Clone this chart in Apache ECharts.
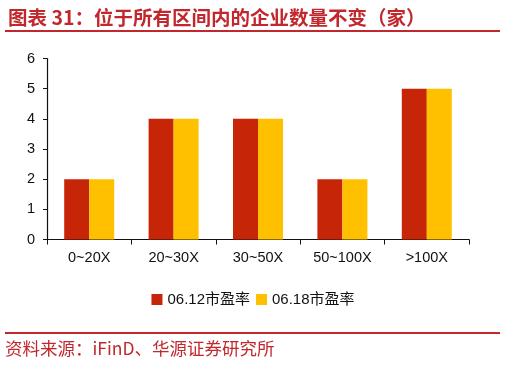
<!DOCTYPE html>
<html>
<head>
<meta charset="utf-8">
<script src="https://cdn.jsdelivr.net/npm/echarts@6/dist/echarts.min.js"></script>
<style>
  html, body { margin: 0; padding: 0; background: #fff; }
  #chart { width: 506px; height: 366px; }
</style>
</head>
<body>
<div id="chart"></div>
<script>
// --- data ---
var categories = ['0~20X', '20~30X', '30~50X', '50~100X', '>100X'];
var pe0612 = [2, 4, 4, 2, 5];
var pe0618 = [2, 4, 4, 2, 5];
var seriesNames = ['06.12市盈率', '06.18市盈率'];

var titleText = '图表 31：位于所有区间内的企业数量不变（家）';
var sourceText = '资料来源：iFinD、华源证券研究所';
var accent = '#C1272D';

var chart = echarts.init(document.getElementById('chart'));

chart.setOption({
    animation: false,
    textStyle: { fontFamily: 'Liberation Sans, Arial, sans-serif' },
    title: {
        text: titleText,
        left: 3, top: 3,
        textStyle: { fontFamily: 'Noto Sans CJK SC', fontSize: 19.5, fontWeight: 'bold', color: accent }
    },
    graphic: [
        { type: 'rect', shape: { x: 5, y: 30, width: 495, height: 2 }, style: { fill: accent } },
        { type: 'rect', shape: { x: 5, y: 332, width: 495, height: 2 }, style: { fill: accent } },
        {
            type: 'text', left: 5, top: 340,
            style: { text: sourceText, fill: accent, fontSize: 17.5, fontFamily: 'Noto Sans CJK SC' }
        }
    ],
    legend: {
        data: seriesNames,
        left: 'center', top: 287,
        itemWidth: 11, itemHeight: 11, itemGap: 6,
        icon: 'rect',
        textStyle: { fontSize: 15, color: '#111', fontFamily: 'Liberation Sans, Noto Sans CJK SC' }
    },
    grid: { left: 47, right: 37, top: 58.5, bottom: 126.5 },
    xAxis: {
        type: 'category',
        data: categories,
        axisLine: { lineStyle: { color: '#111', width: 1.2 } },
        axisTick: { show: true, inside: false, length: 5, lineStyle: { color: '#111' } },
        axisLabel: { color: '#111', fontSize: 14.5, margin: 11 }
    },
    yAxis: {
        type: 'value',
        min: 0, max: 6, interval: 1,
        axisLine: { show: true, lineStyle: { color: '#111', width: 1.2 } },
        axisTick: { show: true, length: 4, lineStyle: { color: '#111' } },
        axisLabel: { color: '#111', fontSize: 14.5, margin: 12 },
        splitLine: { show: false }
    },
    series: [
        {
            name: seriesNames[0], type: 'bar', data: pe0612,
            barWidth: 25, barGap: '0%',
            itemStyle: { color: '#C62508' }
        },
        {
            name: seriesNames[1], type: 'bar', data: pe0618,
            barWidth: 25, barGap: '0%',
            itemStyle: { color: '#FFC000' }
        }
    ]
});
</script>
</body>
</html>
